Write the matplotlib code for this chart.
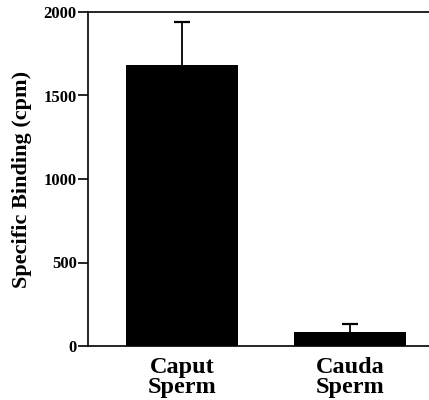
import numpy as np
import matplotlib.pyplot as plt

# Data
groups = ['Caput\nSperm', 'Cauda\nSperm']
binding = [1683, 85]
binding_err = [257, 47]
yticks = [0, 500, 1000, 1500, 2000]

plt.rcParams['font.family'] = 'Liberation Serif'
plt.rcParams['font.weight'] = 'bold'

fig = plt.figure(figsize=(4.29, 4.0), dpi=100)
ax = fig.add_axes([0.205, 0.135, 0.795, 0.835])

x = np.arange(len(groups))
ax.bar(x, binding, width=0.667, color='black', zorder=2)
eb = ax.errorbar(x, binding, yerr=[np.zeros(len(binding)), binding_err],
                 fmt='none', ecolor='black', elinewidth=1.3, capsize=6, capthick=1.6,
                 zorder=1)
# only the upper cap is drawn in the original
eb[1][0].set_visible(False)

ax.set_xlim(-0.56, 1.47)
ax.set_ylim(0, 2000)
ax.set_yticks(yticks)
ax.set_yticklabels([str(t) for t in yticks], fontsize=12, fontweight='bold')
ax.set_xticks(x)
ax.set_xticklabels(groups, fontsize=17.5, fontweight='bold', linespacing=0.92)
ax.tick_params(axis='x', length=0, pad=8)
ax.tick_params(axis='y', length=7, width=1.2, direction='out', pad=1)

ax.spines['right'].set_visible(False)
for s in ['left', 'bottom', 'top']:
    ax.spines[s].set_linewidth(1.2)

ax.set_ylabel('Specific Binding (cpm)', fontsize=16, fontweight='bold')
ax.yaxis.set_label_coords(-0.165, 0.5)

fig.savefig('out.png', dpi=100)
